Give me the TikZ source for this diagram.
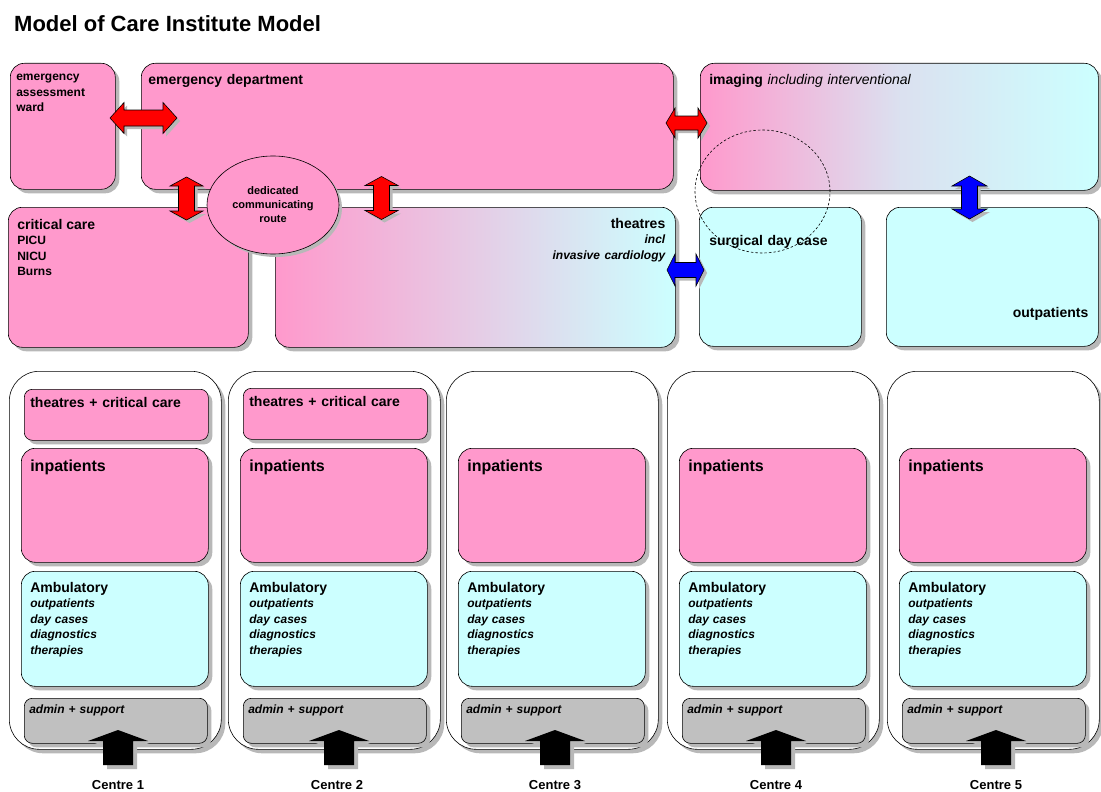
\documentclass[tikz,border=0pt]{standalone}
\usepackage{fontspec}
\setmainfont{Liberation Sans}
\usetikzlibrary{shapes.geometric,shadows}

\definecolor{wardpink}{HTML}{FF99CC}
\definecolor{ambcyan}{HTML}{CCFFFF}
\definecolor{admingray}{HTML}{C0C0C0}
\definecolor{shadowgray}{HTML}{B8B8B8}

\newcommand{\fTitle}{\fontsize{22}{26}\selectfont\bfseries}
\newcommand{\fHead}{\fontsize{14}{15.5}\selectfont\bfseries}
\newcommand{\fBody}{\fontsize{12}{15.5}\selectfont\bfseries}
\newcommand{\fLabel}{\fontsize{13}{15.5}\selectfont\bfseries}
\newcommand{\fList}{\fontsize{12}{15.5}\selectfont\bfseries\itshape}
\newcommand{\fInp}{\fontsize{16}{18}\selectfont\bfseries}
\newcommand{\fRoute}{\fontsize{11}{14}\selectfont\bfseries}

% block double arrow: centre, angle, half length, head length, head half width, shaft half width, colour
\newcommand{\dblarrow}[7]{%
  \fill[shadowgray, shift={#1}, shift={(3,3)}, rotate=#2]
    (-#3,0) -- (-#3+#4,-#5) -- (-#3+#4,-#6) -- (#3-#4,-#6) -- (#3-#4,-#5) -- (#3,0)
    -- (#3-#4,#5) -- (#3-#4,#6) -- (-#3+#4,#6) -- (-#3+#4,#5) -- cycle;
  \draw[line width=0.6pt, fill=#7, shift={#1}, rotate=#2]
    (-#3,0) -- (-#3+#4,-#5) -- (-#3+#4,-#6) -- (#3-#4,-#6) -- (#3-#4,-#5) -- (#3,0)
    -- (#3-#4,#5) -- (#3-#4,#6) -- (-#3+#4,#6) -- (-#3+#4,#5) -- cycle;}

% supply arrow under a centre: x of the tip
\newcommand{\supplyarrow}[1]{%
  \fill[shadowgray, shift={(#1+4,4)}]
    (0,730) -- (30,741) -- (15,741) -- (15,765) -- (-15,765) -- (-15,741) -- (-30,741) -- cycle;
  \fill[black, shift={(#1,0)}]
    (0,730) -- (30,741) -- (15,741) -- (15,765) -- (-15,765) -- (-15,741) -- (-30,741) -- cycle;}

\begin{document}
\begin{tikzpicture}[x=1pt, y=-1pt,
    box/.style={rectangle, draw, line width=0.6pt, rounded corners=14pt, anchor=north west,
                inner ysep=0pt, align=left,
                drop shadow={shadow xshift=4pt, shadow yshift=-4pt, fill=shadowgray, opacity=1}},
    ward/.style={box, fill=wardpink},
    amb/.style={box, fill=ambcyan},
    mixbox/.style={box, left color=wardpink, right color=ambcyan},
    centrebox/.style={box, fill=white, rounded corners=30pt, minimum width=212, minimum height=378},
    tcbox/.style={ward, rounded corners=8pt, font=\fHead, inner xsep=6pt, text width=172pt, text height=18pt, text depth=33pt},
    inpbox/.style={ward, font=\fInp, inner xsep=9pt, text width=169pt, text height=22.7pt, text depth=91.3pt},
    ambbox/.style={amb, font=\fList, inner xsep=9pt, text width=169pt, text height=21pt, text depth=94pt},
    admbox/.style={box, fill=admingray, rounded corners=8pt, font=\fList, inner xsep=5pt, text width=173pt, text height=15pt, text depth=30pt},
    centrelabel/.style={font=\fLabel, anchor=base, inner sep=0pt}
]
\useasboundingbox (0,0) rectangle (1101,792);

\node[anchor=base west, font=\fTitle, inner sep=0pt] (title) at (14,32) {Model of Care Institute Model};

% Top row
\node[ward, font=\fBody, inner xsep=6pt, text width=93pt, text height=17.3pt, text depth=108.7pt] (eaw) at (10,63) {emergency\\assessment\\ward};
\node[ward, font=\fHead, inner xsep=7pt, text width=518pt, text height=21pt, text depth=105pt] (ed) at (141,63) {emergency department};
\node[mixbox, middle color=ambcyan!70!wardpink, font=\fHead, inner xsep=9pt, text width=380pt, text height=21pt, text depth=106pt] (img) at (700,63) {imaging {\mdseries\itshape including interventional}};

% Second row
\node[ward, font=\fBody, inner xsep=9pt, text width=222pt, text height=22pt, text depth=118pt] (cc) at (8,207) {{\fHead critical care}\\PICU\\NICU\\Burns};
\node[mixbox, font=\fHead, align=right, inner xsep=10pt, text width=380pt, text height=21pt, text depth=119pt] (th) at (275,207) {theatres\\{\fList incl}\\{\fList invasive cardiology}};
\node[amb, font=\fHead, inner xsep=10pt, text width=142pt, text height=38pt, text depth=101pt] (sdc) at (699,207) {surgical day case};
\node[amb, font=\fHead, align=right, inner xsep=10pt, text width=192pt, text height=110pt, text depth=29pt] (op) at (886,207) {outpatients};

% Route and links
\node[ellipse, draw, line width=0.6pt, fill=wardpink, minimum width=132, minimum height=98, inner sep=0pt,
      font=\fRoute, align=center,
      drop shadow={shadow xshift=3pt, shadow yshift=-3pt, fill=shadowgray, opacity=1}] (route) at (273,205) {dedicated\\communicating\\route};
\dblarrow{(143.5,118)}{0}{33.5}{14}{15.5}{8}{red}
\dblarrow{(686.5,123)}{0}{20.5}{9}{15}{7}{red}
\dblarrow{(186.5,198.5)}{90}{21.5}{9}{16.5}{8}{red}
\dblarrow{(381.5,198)}{90}{21.5}{9}{16.5}{8}{red}
\dblarrow{(685.5,270)}{0}{18.5}{8}{16}{7.5}{blue}
\dblarrow{(969.5,197.5)}{90}{21.5}{10}{17.5}{8}{blue}
\node[ellipse, draw, line width=0.6pt, dash pattern=on 2.5pt off 2pt, minimum width=135, minimum height=123] (overlap) at (762.5,191.5) {};

% Centre 1
\node[centrebox] (c1) at (9,371) {};
\node[tcbox] (tc1) at (24,389) {theatres + critical care};
\node[inpbox] (inp1) at (21,448) {inpatients};
\node[ambbox] (amb1) at (21,571) {{\fHead\upshape Ambulatory}\\outpatients\\day cases\\diagnostics\\therapies};
\node[admbox] (adm1) at (24,698) {admin + support};
\supplyarrow{118}
\node[centrelabel] (lab1) at (118,789) {Centre 1};

% Centre 2
\node[centrebox] (c2) at (228,371) {};
\node[tcbox] (tc2) at (243,388) {theatres + critical care};
\node[inpbox] (inp2) at (240,448) {inpatients};
\node[ambbox] (amb2) at (240,571) {{\fHead\upshape Ambulatory}\\outpatients\\day cases\\diagnostics\\therapies};
\node[admbox] (adm2) at (243,698) {admin + support};
\supplyarrow{339}
\node[centrelabel] (lab2) at (337,789) {Centre 2};

% Centre 3
\node[centrebox] (c3) at (446,371) {};
\node[inpbox] (inp3) at (458,448) {inpatients};
\node[ambbox] (amb3) at (458,571) {{\fHead\upshape Ambulatory}\\outpatients\\day cases\\diagnostics\\therapies};
\node[admbox] (adm3) at (461,698) {admin + support};
\supplyarrow{555}
\node[centrelabel] (lab3) at (555,789) {Centre 3};

% Centre 4
\node[centrebox] (c4) at (667,371) {};
\node[inpbox] (inp4) at (679,448) {inpatients};
\node[ambbox] (amb4) at (679,571) {{\fHead\upshape Ambulatory}\\outpatients\\day cases\\diagnostics\\therapies};
\node[admbox] (adm4) at (682,698) {admin + support};
\supplyarrow{776}
\node[centrelabel] (lab4) at (776,789) {Centre 4};

% Centre 5
\node[centrebox] (c5) at (887,371) {};
\node[inpbox] (inp5) at (899,448) {inpatients};
\node[ambbox] (amb5) at (899,571) {{\fHead\upshape Ambulatory}\\outpatients\\day cases\\diagnostics\\therapies};
\node[admbox] (adm5) at (902,698) {admin + support};
\supplyarrow{996}
\node[centrelabel] (lab5) at (996,789) {Centre 5};
\end{tikzpicture}
\end{document}
